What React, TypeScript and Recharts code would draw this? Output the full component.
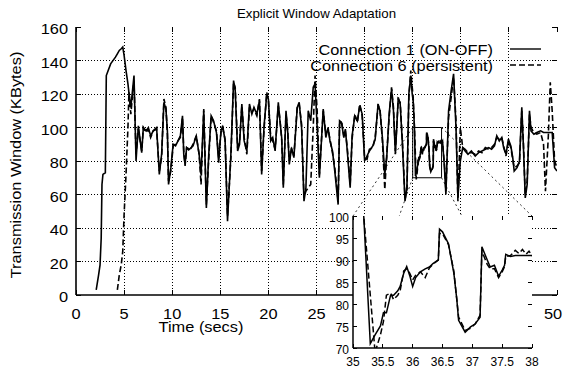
import type { JSX, ReactNode } from "react"
import {
  Legend,
  Line,
  LineChart,
  ReferenceArea,
  ReferenceLine,
  XAxis,
  YAxis,
} from "recharts"

const FONT = '"Liberation Sans", Arial, Helvetica, sans-serif'

// time axis (secs), shared by both connections
const timeSecs = [
  2.1, 2.35, 2.5, 2.62, 2.7, 2.8, 3.05, 3.15, 3.6, 4.1,
  4.3, 4.5, 4.7, 4.86, 5.0, 5.2, 5.4, 5.5, 5.7, 6.03,
  6.24, 6.48, 6.83, 7.0, 7.28, 7.52, 7.76, 8.03, 8.38, 8.66,
  8.9, 9.14, 9.35, 9.5, 9.62, 9.86, 10.1, 10.35, 10.6, 10.85,
  11.07, 11.2, 11.34, 11.5, 11.8, 12.17, 12.5, 12.8, 13.0, 13.28,
  13.55, 13.8, 14.05, 14.3, 14.6, 14.83, 15.07, 15.25, 15.5, 15.75,
  16.1, 16.38, 16.55, 16.8, 17.0, 17.24, 17.48, 17.76, 18.03, 18.28,
  18.5, 18.8, 19.07, 19.3, 19.55, 19.83, 20.0, 20.24, 20.45, 20.7,
  21.03, 21.2, 21.38, 21.55, 21.83, 22.0, 22.17, 22.4, 22.65, 23.0,
  23.2, 23.45, 23.7, 23.9, 24.14, 24.4, 24.66, 24.85, 25.07, 25.3,
  25.7, 25.97, 26.2, 26.4, 26.66, 26.9, 27.25, 27.4, 27.6, 27.84,
  28.0, 28.2, 28.5, 28.7, 28.98, 29.25, 29.5, 29.75, 30.0, 30.25,
  30.5, 30.85, 31.1, 31.4, 31.6, 31.85, 32.1, 32.3, 32.55, 32.8,
  33.0, 33.2, 33.5, 33.7, 33.93, 34.2, 34.4, 34.6, 34.8, 34.95,
  35.05, 35.18, 35.29, 35.37, 35.46, 35.51, 35.56, 35.63, 35.68, 35.75,
  35.79, 35.85, 35.9, 35.95, 36.0, 36.05, 36.13, 36.21, 36.28, 36.34,
  36.43, 36.45, 36.5, 36.6, 36.69, 36.74, 36.77, 36.88, 36.97, 37.05,
  37.13, 37.16, 37.25, 37.3, 37.37, 37.44, 37.5, 37.54, 37.56, 37.64,
  37.72, 37.78, 37.84, 37.9, 37.95, 38.0, 38.1, 38.3, 38.45, 38.73,
  39.0, 39.25, 39.5, 39.7, 39.95, 40.2, 40.45, 40.75, 41.1, 41.5,
  41.85, 42.2, 42.55, 42.9, 43.2, 43.5, 43.74, 44.0, 44.26, 44.45,
  44.7, 44.95, 45.2, 45.4, 45.55, 45.85, 46.1, 46.34, 46.5, 46.7,
  46.9, 47.14, 47.3, 47.6, 47.9, 48.3, 48.6, 48.8, 49.1, 49.3,
  49.5, 49.75, 50.0,
]

// Connection 1 (ON-OFF), KBytes
const conn1Kb = [
  3, 12, 18, 34, 66, 72, 73, 131, 138, 142,
  144, 146, 147, 148, 143, 134, 126, 121, 112, 131,
  80, 101, 85, 100, 98, 100, 95, 98, 100, 72,
  84, 115, 111, 98, 66, 76, 90, 89, 92, 95,
  107, 84, 78, 88, 87, 89, 95, 84, 72, 110,
  52, 84, 107, 104, 97, 79, 98, 101, 92, 44,
  84, 128, 122, 86, 90, 114, 92, 86, 114, 108,
  112, 108, 116, 72, 101, 120, 117, 92, 94, 86,
  115, 104, 94, 64, 110, 98, 78, 88, 82, 112,
  115, 100, 56, 64, 110, 104, 124, 126, 100, 70,
  111, 94, 100, 92, 86, 74, 54, 104, 103, 94,
  99, 86, 64, 95, 107, 104, 113, 108, 80, 83,
  86, 89, 93, 114, 110, 94, 72, 82, 108, 123,
  110, 84, 118, 114, 90, 56, 64, 120, 131, 120,
  116, 100, 71, 73, 75, 78, 78, 82, 82, 83,
  84, 87, 88.5, 86.5, 84, 86, 87.3, 88, 88.4, 89.2,
  90, 97, 96.4, 93.7, 87, 81, 76.3, 73.6, 74.8, 75.5,
  77, 93, 90, 88.4, 88.8, 86.3, 87.7, 88.8, 91.3, 90.8,
  91, 91, 91, 91, 91, 91, 92, 76, 60, 110,
  122, 132, 100, 58, 80, 88, 86, 84, 86, 83,
  85, 86, 87, 88, 87, 89, 95, 92, 94, 88,
  84, 93, 89, 82, 74, 76, 80, 112, 90, 58,
  66, 110, 98, 96, 97, 98, 97, 97, 97, 97,
  97, 76, 74,
]

// Connection 6 (persistent), KBytes
const conn6Kb = [
  null, null, null, null, null, null, null, null, null, null,
  3, 12, 18, 26, 48, 72, 100, 121, 108, 128,
  84, 99, 86, 100, 97, 99, 94, 98, 99, 74,
  82, 117, 112, 96, 68, 74, 89, 90, 92, 94,
  106, 86, 77, 88, 86, 90, 95, 84, 66, 111,
  54, 82, 107, 103, 98, 82, 97, 100, 93, 47,
  82, 127, 124, 88, 91, 113, 94, 84, 112, 109,
  111, 107, 117, 74, 99, 121, 116, 94, 92, 87,
  113, 105, 93, 66, 108, 99, 80, 87, 83, 113,
  114, 102, 58, 62, 64, 66, 100, 131, 110, 72,
  110, 96, 99, 93, 85, 76, 56, 102, 104, 95,
  98, 88, 66, 93, 108, 103, 114, 107, 82, 81,
  87, 88, 94, 113, 111, 92, 63, 84, 106, 124,
  112, 86, 117, 115, 92, 58, 62, 118, 134, 124,
  118, 100, 82, 69, 73, 76, 82, 82.5, 81, 82,
  83, 87.5, 88, 87, 85.5, 86.5, 87.3, 86, 88.2, 89,
  90, 96, 96, 93.5, 87.5, 81, 77, 74, 74.5, 75.5,
  77.5, 92, 89, 88, 88, 86, 87.3, 88.5, 90.8, 91,
  92.2, 91.5, 92.4, 91.3, 92, 91, 91, 78, 62, 106,
  118, 130, 104, 56, 100, 88, 87, 85, 85, 84,
  86, 85, 88, 87, 88, 90, 94, 93, 94, 89,
  83, 92, 88, 81, 76, 77, 79, 110, 92, 60,
  68, 108, 100, 97, 96, 97, 90, 62, 95, 127,
  110, 80, 76,
]

const xTicks = [0, 5, 10, 15, 20, 25, 30, 35, 40, 45, 50]
const yTicks = [0, 20, 40, 60, 80, 100, 120, 140, 160]
const zoomXTicks = [35, 35.5, 36, 36.5, 37, 37.5, 38]
const zoomYTicks = [70, 75, 80, 85, 90, 95, 100]
const xDomain: [number, number] = [0, 50]
const yDomain: [number, number] = [0, 160]
const zoomX: [number, number] = [35, 38]
const zoomY: [number, number] = [70, 100]

const series = [
  { key: "conn1", name: "Connection 1 (ON-OFF)", dash: undefined as string | undefined },
  { key: "conn6", name: "Connection 6 (persistent)", dash: "6 3" },
]

const data = timeSecs.map((t, i) => ({ t, conn1: conn1Kb[i], conn6: conn6Kb[i] }))

// layout in page pixels
const W = 563
const H = 370
const PLOT = { left: 76, top: 27, right: 557, bottom: 295 }
const ZOOM_BOX = { left: 353, top: 216, right: 532, bottom: 348 }
const INSET = { left: 300, top: 206, width: 256, height: 164, axisW: 53, axisH: 22 }
// inset plot area in the inset's own svg
const IPLOT = {
  left: INSET.axisW,
  top: ZOOM_BOX.top - INSET.top,
  right: ZOOM_BOX.right - INSET.left,
  bottom: INSET.height - INSET.axisH,
}

type Box = { left: number; top: number; right: number; bottom: number }

// value -> page pixel for a plot box (used for grid and tick marks only)
const toPx = (v: number, dom: [number, number], a: number, b: number) =>
  a + ((v - dom[0]) / (dom[1] - dom[0])) * (b - a)
// snap a 1px line onto the pixel grid so it stays dark
const crisp = (v: number) => Math.round(v - 0.5) + 0.5

// page pixel -> main chart data value, for the zoom guide lines
const pxToTime = (px: number) => xDomain[0] + ((px - PLOT.left) / (PLOT.right - PLOT.left)) * (xDomain[1] - xDomain[0])
const pxToKb = (py: number) => yDomain[0] + ((PLOT.bottom - py) / (PLOT.bottom - PLOT.top)) * (yDomain[1] - yDomain[0])

const guides = [
  [zoomX[0], zoomY[1], ZOOM_BOX.left, ZOOM_BOX.top],
  [zoomX[0], zoomY[0], ZOOM_BOX.left, ZOOM_BOX.bottom],
  [zoomX[1], zoomY[1], ZOOM_BOX.right, ZOOM_BOX.top],
  [zoomX[1], zoomY[0], ZOOM_BOX.right, ZOOM_BOX.bottom],
]

function SText(props: {
  x: number
  y: number
  size: number
  sx?: number
  anchor?: "start" | "middle" | "end"
  rotate?: number
  children: ReactNode
}): JSX.Element {
  const { x, y, size, sx = 1, anchor = "middle", rotate = 0, children } = props
  return (
    <text
      transform={`translate(${x} ${y}) rotate(${rotate}) scale(${sx} 1)`}
      textAnchor={anchor}
      fontFamily={FONT}
      fontSize={size}
      fill="#000"
    >
      {children}
    </text>
  )
}

// dotted grid plus inward tick marks on all four sides of a plot box
function GridAndMarks(props: {
  box: Box
  xDom: [number, number]
  yDom: [number, number]
  xt: number[]
  yt: number[]
  len: number
  grid: boolean
}): JSX.Element {
  const { box, xDom, yDom, xt, yt, len, grid } = props
  const xs = xt.map((t) => crisp(toPx(t, xDom, box.left, box.right)))
  const ys = yt.map((v) => crisp(toPx(v, yDom, box.bottom, box.top)))
  return (
    <g>
      {grid &&
        xs.slice(1, -1).map((x, i) => (
          <line key={`gx${i}`} x1={x} x2={x} y1={box.top} y2={box.bottom} stroke="#000" strokeWidth={1} strokeDasharray="1 2" />
        ))}
      {grid &&
        ys.slice(1, -1).map((y, i) => (
          <line key={`gy${i}`} x1={box.left} x2={box.right} y1={y} y2={y} stroke="#000" strokeWidth={1} strokeDasharray="1 2" />
        ))}
      {xs.map((x, i) => (
        <g key={`mx${i}`}>
          <line x1={x} x2={x} y1={box.bottom} y2={box.bottom - len} stroke="#000" strokeWidth={1} />
          <line x1={x} x2={x} y1={box.top} y2={box.top + len} stroke="#000" strokeWidth={1} />
        </g>
      ))}
      {ys.map((y, i) => (
        <g key={`my${i}`}>
          <line x1={box.left} x2={box.left + len} y1={y} y2={y} stroke="#000" strokeWidth={1} />
          <line x1={box.right} x2={box.right - len} y1={y} y2={y} stroke="#000" strokeWidth={1} />
        </g>
      ))}
    </g>
  )
}

// tick labels; the last main x label would run past the page edge, so it is kept inside
const makeXTick = (bottom: number, size: number, sx: number, gap: number, maxX: number) => (p: any) => (
  <SText x={Math.min(p.x, maxX)} y={bottom + gap} size={size} sx={sx}>
    {p.payload.value}
  </SText>
)
const makeYTick = (left: number, size: number, sx: number, gap: number, dy: number) => (p: any) => (
  <SText x={left - gap} y={p.y + dy} size={size} sx={sx} anchor="end">
    {p.payload.value}
  </SText>
)

const mainXTick = makeXTick(PLOT.bottom, 14, 1.17, 24, W - 10)
const mainYTick = makeYTick(PLOT.left, 14, 1.17, 8, 7)
const insetXTick = makeXTick(IPLOT.bottom, 12, 1, 18, 1000)
const insetYTick = makeYTick(IPLOT.left, 12, 1, 4, 6)

function renderLegend(): JSX.Element {
  return (
    <svg width={W} height={80}>
      {series.map((s, i) => {
        const cy = 49 + i * 16
        return (
          <g key={s.key}>
            <SText x={493} y={cy + 5.5} size={14} sx={1.17} anchor="end">
              {s.name}
            </SText>
            <line x1={510} x2={541} y1={cy} y2={cy} stroke="#000" strokeWidth={1.4} strokeDasharray={s.dash} />
          </g>
        )
      })}
    </svg>
  )
}

// labelled axes at left/bottom, bare axes at top/right close the frame
function Frame(props: {
  xDom: [number, number]
  yDom: [number, number]
  xt: number[]
  yt: number[]
  xTick: (p: any) => JSX.Element
  yTick: (p: any) => JSX.Element
  xH: number
  yW: number
  lineW: number
}) {
  const { xDom, yDom, xt, yt, xTick, yTick, xH, yW, lineW } = props
  const line = { stroke: "#000", strokeWidth: lineW }
  const common = { type: "number" as const, allowDataOverflow: true, interval: 0 as const }
  return [
    <XAxis key="xb" {...common} dataKey="t" domain={xDom} ticks={xt} height={xH} tick={xTick} tickLine={false} axisLine={line} />,
    <XAxis key="xt" {...common} xAxisId="top" orientation="top" mirror domain={xDom} ticks={xt} height={0} tick={false} tickLine={false} axisLine={line} />,
    <YAxis key="yl" {...common} domain={yDom} ticks={yt} width={yW} tick={yTick} tickLine={false} axisLine={line} />,
    <YAxis key="yr" {...common} yAxisId="right" orientation="right" mirror domain={yDom} ticks={yt} width={0} tick={false} tickLine={false} axisLine={line} />,
  ]
}

function MainChart(): JSX.Element {
  return (
    <LineChart width={W} height={H} data={data} margin={{ top: PLOT.top, right: W - PLOT.right, bottom: 0, left: 0 }}>
      {Frame({
        xDom: xDomain,
        yDom: yDomain,
        xt: xTicks,
        yt: yTicks,
        xTick: mainXTick,
        yTick: mainYTick,
        xH: H - PLOT.bottom,
        yW: PLOT.left,
        lineW: 1.6,
      })}
      {guides.map(([x0, y0, px, py], i) => (
        <ReferenceLine
          key={i}
          segment={[
            { x: x0, y: y0 },
            { x: pxToTime(px), y: pxToKb(py) },
          ]}
          ifOverflow="visible"
          stroke="#333"
          strokeDasharray="2 3"
        />
      ))}
      <ReferenceArea x1={zoomX[0]} x2={zoomX[1]} y1={zoomY[0]} y2={zoomY[1]} fill="none" stroke="#000" strokeWidth={1} />
      {series.map((s) => (
        <Line
          key={s.key}
          type="linear"
          dataKey={s.key}
          name={s.name}
          stroke="#000"
          strokeWidth={1.6}
          strokeDasharray={s.dash}
          dot={false}
          isAnimationActive={false}
        />
      ))}
      <Legend
        layout="horizontal"
        verticalAlign="middle"
        align="center"
        wrapperStyle={{ left: 0, top: 0, width: W, height: 80 }}
        content={renderLegend}
      />
    </LineChart>
  )
}

function ZoomChart(): JSX.Element {
  return (
    <LineChart
      width={INSET.width}
      height={INSET.height}
      data={data}
      margin={{ top: IPLOT.top, right: INSET.width - IPLOT.right, bottom: 0, left: 0 }}
    >
      <ReferenceArea x1={zoomX[0]} x2={zoomX[1]} y1={zoomY[0]} y2={zoomY[1]} fill="#fff" fillOpacity={1} stroke="none" />
      {Frame({
        xDom: zoomX,
        yDom: zoomY,
        xt: zoomXTicks,
        yt: zoomYTicks,
        xTick: insetXTick,
        yTick: insetYTick,
        xH: INSET.axisH,
        yW: INSET.axisW,
        lineW: 1.5,
      })}
      {series.map((s) => (
        <Line
          key={s.key}
          type="linear"
          dataKey={s.key}
          name={s.name}
          stroke="#000"
          strokeWidth={1.5}
          strokeDasharray={s.dash}
          dot={false}
          isAnimationActive={false}
        />
      ))}
    </LineChart>
  )
}

const layer = { position: "absolute" as const, left: 0, top: 0, pointerEvents: "none" as const }

export default function App(): JSX.Element {
  return (
    <div style={{ position: "absolute", left: 0, top: 0, width: W, height: H, background: "#fff", overflow: "hidden" }}>
      <div style={{ position: "absolute", left: 0, top: 0 }}>
        <MainChart />
      </div>
      <svg width={W} height={H} style={layer}>
        <GridAndMarks box={PLOT} xDom={xDomain} yDom={yDomain} xt={xTicks} yt={yTicks} len={5} grid />
        <SText x={(PLOT.left + PLOT.right) / 2} y={18} size={13} sx={1.02}>
          Explicit Window Adaptation
        </SText>
        <SText x={201} y={332} size={14} sx={1.17}>
          Time (secs)
        </SText>
        <SText x={21} y={(PLOT.top + PLOT.bottom) / 2 + 4} size={14} sx={1.17} rotate={-90}>
          Transmission Window (KBytes)
        </SText>
      </svg>
      <div style={{ position: "absolute", left: INSET.left, top: INSET.top }}>
        <ZoomChart />
      </div>
      <svg width={W} height={H} style={layer}>
        <GridAndMarks box={ZOOM_BOX} xDom={zoomX} yDom={zoomY} xt={zoomXTicks} yt={zoomYTicks} len={4} grid={false} />
      </svg>
    </div>
  )
}
